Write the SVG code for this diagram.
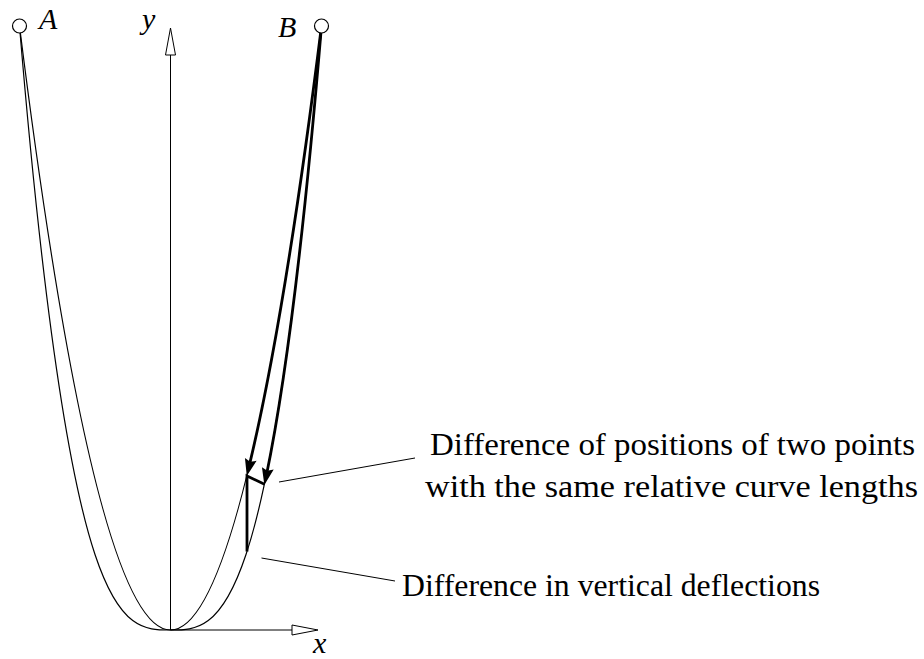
<svg xmlns="http://www.w3.org/2000/svg" width="924" height="659" viewBox="0 0 924 659">
<style>
.thin{fill:none;stroke:#000;stroke-width:1.2}
.axis{fill:none;stroke:#000;stroke-width:1}
.head{fill:#fff;stroke:#000;stroke-width:1}
.thick{fill:none;stroke:#000;stroke-width:2.8}
.lead{fill:none;stroke:#000;stroke-width:1}
.math{font-style:italic}
</style>
<defs>
<marker id="ah" markerUnits="userSpaceOnUse" orient="auto" refX="0" refY="0" markerWidth="30" markerHeight="30" overflow="visible">
<path d="M9,0 L-8,-6 L-5.5,0 L-8,6 Z" fill="#000"/>
</marker>
</defs>
<rect width="924" height="659" fill="#fff"/>
<g id="axes">
<line class="axis" x1="170.5" y1="630" x2="170.5" y2="55"/>
<polygon class="head" points="165.5,55 170.5,28 175.5,55"/>
<line class="axis" x1="170.5" y1="630" x2="292" y2="630"/>
<polygon class="head" points="292,625 318,630 292,635"/>
<text class="math" x="142" y="29" font-family="Liberation Serif" font-size="30">y</text>
<text class="math" x="313" y="653" font-family="Liberation Serif" font-size="30">x</text>
</g>
<g id="curves">
<path class="thin" d="M19.5,26 Q95,630 170.5,630 Q246,630 321.5,26"/>
<path class="thin" d="M19.5,26 C69.83,630 120.17,630 170.5,630 C220.83,630 271.17,630 321.5,26"/>
</g>
<g id="connectors">
<path class="thick" d="M321.5,26 Q285.2,316.4 248.9,467.2" marker-end="url(#ah)"/>
<path class="thick" d="M321.5,26 C303.07,247.2 284.63,387.4 266.2,476.2" marker-end="url(#ah)"/>
<path class="thick" d="M264.5,484.3 L247,476 L247,551.5" stroke-linejoin="miter"/>
<line class="lead" x1="279" y1="482" x2="415" y2="458"/>
<line class="lead" x1="261.5" y1="558" x2="395" y2="581"/>
</g>
<g id="nodeA">
<circle cx="19.5" cy="26" r="7" fill="#fff" stroke="#000" stroke-width="1.2"/>
<text class="math" x="39" y="29" font-family="Liberation Serif" font-size="30">A</text>
</g>
<g id="nodeB">
<circle cx="321.5" cy="26" r="7" fill="#fff" stroke="#000" stroke-width="1.2"/>
<text class="math" x="278" y="37" font-family="Liberation Serif" font-size="30">B</text>
</g>
<g id="label1">
<text x="430" y="455" font-family="Liberation Serif" font-size="32" textLength="485" lengthAdjust="spacingAndGlyphs">Difference of positions of two points</text>
<text x="425" y="497" font-family="Liberation Serif" font-size="32" textLength="493" lengthAdjust="spacingAndGlyphs">with the same relative curve lengths</text>
</g>
<g id="label2">
<text x="402" y="596" font-family="Liberation Serif" font-size="32" textLength="418" lengthAdjust="spacingAndGlyphs">Difference in vertical deflections</text>
</g>
</svg>
